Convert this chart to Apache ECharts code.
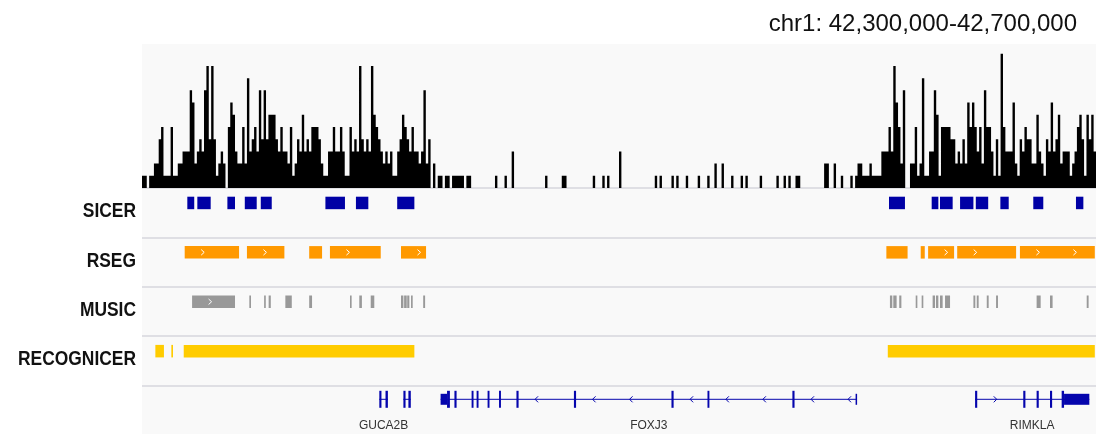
<!DOCTYPE html>
<html>
<head>
<meta charset="utf-8">
<script src="https://cdn.jsdelivr.net/npm/echarts@6/dist/echarts.min.js"></script>
<style>
  html, body { margin: 0; padding: 0; background: #ffffff; }
  #chart { width: 1096px; height: 434px; }
</style>
</head>
<body>
<div id="chart"></div>
<script>
// Locus shown in the browser view
const regionStart = 42300000;
const regionEnd = 42700000;
const locusLabel = 'chr1: 42,300,000-42,700,000';

// Read coverage, one value per 1 kb bin starting at regionStart
const binSize = 1000;
const coverage = [
  1,1,0,1,1,2,2,4,5,1, 1,1,5,1,1,2,2,3,3,3,
  8,7,2,3,4,3,8,10,4,10, 4,1,2,3,2,0,5,7,6,3,
  2,2,5,2,9,3,4,5,3,8, 4,8,4,6,6,6,4,3,5,3,
  3,2,5,1,2,4,3,6,3,4, 3,5,5,5,4,2,1,1,3,3,
  5,3,3,5,3,1,1,5,3,4, 3,10,4,3,4,3,10,6,5,4,
  3,2,3,2,3,1,1,3,4,6, 5,4,3,5,3,3,2,3,8,2,
  4,0,2,0,1,1,0,1,1,0, 1,1,1,1,1,0,1,1,0,0,
  0,0,0,0,0,0,0,0,1,0, 0,0,1,0,0,3,0,0,0,0,
  0,0,0,0,0,0,0,0,0,1, 0,0,0,0,0,0,1,1,0,0,
  0,0,0,0,0,0,0,0,0,1, 0,0,0,1,0,1,0,0,0,0,
  3,0,0,0,0,0,0,0,0,0, 0,0,0,0,0,1,0,1,0,0,
  0,0,1,0,1,0,0,0,1,0, 0,0,0,1,0,0,0,1,0,0,
  2,0,0,2,0,0,0,1,0,0, 0,1,0,1,0,0,0,0,0,1,
  0,0,0,0,0,0,1,0,0,1, 0,1,0,0,1,1,0,0,0,0,
  0,0,0,0,0,0,2,2,0,0, 2,0,0,1,0,0,0,1,0,1,
  2,2,1,1,1,2,1,1,1,1, 3,3,3,5,3,10,7,5,2,8,
  0,0,2,2,5,1,2,9,1,1, 3,3,8,6,1,5,5,5,5,4,
  4,2,3,2,4,2,7,5,7,5, 3,5,2,8,5,5,3,1,4,1,
  11,5,3,3,3,7,2,1,4,3, 5,4,4,2,2,6,3,2,1,4,
  3,7,3,4,6,2,3,3,3,1, 2,3,5,6,4,1,6,4,6,3
];

// Peak-caller tracks: [start, end] in bp
const trackNames = ['SICER', 'RSEG', 'MUSIC', 'RECOGNICER'];

const sicerPeaks = [
  [42319000, 42321900], [42323200, 42328800], [42335800, 42339000], [42343100, 42348100],
  [42349800, 42354400], [42376900, 42385100], [42389700, 42394900], [42407000, 42414200],
  [42613200, 42619900], [42631100, 42633900], [42634600, 42639900], [42643000, 42648600],
  [42649600, 42654800], [42659900, 42663400], [42673700, 42677900], [42691600, 42694700]
];

const rsegDomains = [
  [42317900, 42340700], [42344000, 42359700], [42370100, 42375500], [42378800, 42400100],
  [42408600, 42419100], [42612100, 42621000], [42626500, 42628200], [42629600, 42640500],
  [42641800, 42666500], [42668100, 42699500]
];

const musicPeaks = [
  [42321000, 42339000], [42345000, 42345700], [42351200, 42351900], [42353100, 42354000],
  [42360100, 42362800], [42370100, 42371300], [42387200, 42387900], [42391100, 42392200],
  [42395900, 42397400], [42408600, 42409600], [42409900, 42411000], [42411200, 42412100],
  [42412800, 42413500], [42417900, 42418700],
  [42613600, 42614600], [42615000, 42616400], [42617500, 42618400], [42624400, 42625100],
  [42626900, 42627600], [42631500, 42632500], [42632900, 42633900], [42634600, 42635700],
  [42636700, 42638800], [42648600, 42649400], [42650000, 42650800], [42654200, 42655000],
  [42658100, 42658900], [42675100, 42676800], [42680700, 42681800], [42696100, 42696900]
];

const recognicerDomains = [
  [42305600, 42309200], [42312300, 42313000], [42317500, 42414200], [42612700, 42699500]
];

// Gene models: coding exons, UTR blocks, strand and name
const geneLabels = ['GUCA2B', '', 'FOXJ3', 'RIMKLA'];
const geneStrands = ['-', '-', '-', '+'];
const geneExons = [
  [[42399500, 42400400], [42402100, 42403100]],
  [[42409600, 42410500], [42411700, 42412700]],
  [[42427900, 42429100], [42431000, 42431900], [42438200, 42439000], [42440300, 42441100],
   [42444900, 42445700], [42449700, 42450500], [42457000, 42457900], [42481100, 42482000],
   [42522000, 42522900], [42537100, 42537900], [42572700, 42573600]],
  [[42649300, 42650200], [42669500, 42670400], [42675100, 42676000], [42680700, 42681600],
   [42685600, 42686600]]
];
const geneUtrs = [
  [],
  [],
  [[42425200, 42427900], [42599200, 42599800]],
  [[42686600, 42697200]]
];

// Colours
const COLORS = {
  panel: '#f9f9f9',
  divider: '#d6d6dc',
  coverage: '#000000',
  sicer: '#0000a5',
  rseg: '#ff9900',
  music: '#999999',
  recognicer: '#ffcc00',
  gene: '#0505ad',
  geneText: '#333333',
  trackText: '#111111'
};

const GENE_ROW = trackNames.length;

// Coverage as a stepped area: each point holds its value until the next bin
const coveragePoints = coverage.map((v, i) => [regionStart + i * binSize, v]);
coveragePoints.push([regionEnd, coverage[coverage.length - 1]]);

function rowData(list, row) {
  return list.map(([s, e]) => [s, e, row]);
}

// Feature blocks with optional strand chevrons drawn inside them
function featureRenderer(color, withArrows) {
  return function (params, api) {
    const row = api.value(2);
    const p0 = api.coord([api.value(0), row]);
    const p1 = api.coord([api.value(1), row]);
    const top = p0[1] - 16;
    const h = 12.5;
    const x = p0[0];
    const w = Math.max(p1[0] - p0[0], 1.6);
    const children = [{
      type: 'rect',
      shape: { x: x, y: top, width: w, height: h },
      style: { fill: color }
    }];
    if (withArrows) {
      for (let cx = x + 18; cx < x + w - 4; cx += 37) {
        children.push({
          type: 'polyline',
          shape: { points: [[cx - 1.5, top + 3.5], [cx + 1.5, top + 6.25], [cx - 1.5, top + 9]] },
          style: { stroke: '#ffffff', lineWidth: 1, fill: null }
        });
      }
    }
    return { type: 'group', children: children };
  };
}

// Track names, right-aligned against the data panel in a condensed bold face
function trackNameRenderer(params, api) {
  const row = api.value(1);
  const p = api.coord([regionStart, row]);
  return {
    type: 'text',
    x: p[0] - 6,
    y: p[1] - 1,
    scaleX: 0.87,
    style: {
      text: trackNames[row],
      x: 0,
      y: 0,
      align: 'right',
      verticalAlign: 'middle',
      fill: COLORS.trackText,
      fontSize: 20,
      fontWeight: 'bold',
      fontFamily: '"Liberation Sans", Arial, sans-serif'
    }
  };
}

function geneRenderer(params, api) {
  const gi = api.value(3);
  const start = api.coord([api.value(0), GENE_ROW]);
  const end = api.coord([api.value(1), GENE_ROW]);
  const mid = start[1] - 11;
  const children = [];

  children.push({
    type: 'line',
    shape: { x1: start[0], y1: mid, x2: end[0], y2: mid },
    style: { stroke: COLORS.gene, lineWidth: 1 }
  });

  // Chevrons along each intron show the strand
  const blocks = geneExons[gi].concat(geneUtrs[gi]).slice().sort((a, b) => a[0] - b[0]);
  const dir = geneStrands[gi] === '+' ? 1 : -1;
  for (let k = 0; k + 1 < blocks.length; k++) {
    const a = api.coord([blocks[k][1], GENE_ROW])[0];
    const b = api.coord([blocks[k + 1][0], GENE_ROW])[0];
    for (let cx = a + 18; cx < b - 5; cx += 37) {
      children.push({
        type: 'polyline',
        shape: { points: [[cx - 1.5 * dir, mid - 3], [cx + 1.5 * dir, mid], [cx - 1.5 * dir, mid + 3]] },
        style: { stroke: COLORS.gene, lineWidth: 1, fill: null }
      });
    }
  }

  geneUtrs[gi].forEach(([s, e]) => {
    const x0 = api.coord([s, GENE_ROW])[0];
    const x1 = api.coord([e, GENE_ROW])[0];
    children.push({
      type: 'rect',
      shape: { x: x0, y: mid - 5.5, width: Math.max(x1 - x0, 1.5), height: 11 },
      style: { fill: COLORS.gene }
    });
  });

  geneExons[gi].forEach(([s, e]) => {
    const x0 = api.coord([s, GENE_ROW])[0];
    const x1 = api.coord([e, GENE_ROW])[0];
    children.push({
      type: 'rect',
      shape: { x: x0, y: mid - 8.5, width: Math.max(x1 - x0, 1.8), height: 17 },
      style: { fill: COLORS.gene }
    });
  });

  if (geneLabels[gi]) {
    children.push({
      type: 'text',
      style: {
        text: geneLabels[gi],
        x: (start[0] + end[0]) / 2,
        y: start[1] + 15,
        align: 'center',
        verticalAlign: 'middle',
        fill: COLORS.geneText,
        fontSize: 12,
        fontFamily: '"Liberation Sans", Arial, sans-serif'
      }
    });
  }
  return { type: 'group', children: children };
}

const geneData = geneLabels.map((name, i) => {
  const all = geneExons[i].concat(geneUtrs[i]);
  const s = Math.min.apply(null, all.map(b => b[0]));
  const e = Math.max.apply(null, all.map(b => b[1]));
  return [s, e, GENE_ROW, i];
});

const chart = echarts.init(document.getElementById('chart'), null, { renderer: 'canvas' });

chart.setOption({
  animation: false,
  backgroundColor: '#ffffff',
  title: {
    text: locusLabel,
    right: 14,
    top: 7,
    textStyle: {
      fontSize: 24,
      fontWeight: 'normal',
      color: '#111111',
      fontFamily: '"Liberation Sans", Arial, sans-serif'
    }
  },
  grid: [
    { left: 142, right: 0, top: 44, height: 144, show: true, backgroundColor: COLORS.panel,
      borderWidth: 0, outerBoundsMode: 'none', containLabel: false },
    { left: 142, right: 0, top: 188, bottom: -1, show: true, backgroundColor: COLORS.panel,
      borderWidth: 0, outerBoundsMode: 'none', containLabel: false }
  ],
  xAxis: [
    { type: 'value', gridIndex: 0, min: regionStart, max: regionEnd, show: false },
    { type: 'value', gridIndex: 1, min: regionStart, max: regionEnd, show: false }
  ],
  yAxis: [
    { type: 'value', gridIndex: 0, min: 0, max: 11.8, show: false },
    {
      type: 'category',
      gridIndex: 1,
      inverse: true,
      data: trackNames.concat(['']),
      axisLine: { show: false },
      axisTick: { show: false },
      axisLabel: { show: false },
      splitLine: { show: true, lineStyle: { color: COLORS.divider, width: 1.5 } }
    }
  ],
  series: [
    {
      type: 'line',
      xAxisIndex: 0,
      yAxisIndex: 0,
      step: 'end',
      data: coveragePoints,
      symbol: 'none',
      lineStyle: { width: 0 },
      areaStyle: { color: COLORS.coverage, opacity: 1 },
      silent: true
    },
    {
      type: 'custom', xAxisIndex: 1, yAxisIndex: 1,
      renderItem: featureRenderer(COLORS.sicer, false),
      encode: { x: [0, 1], y: 2 },
      data: rowData(sicerPeaks, 0), silent: true
    },
    {
      type: 'custom', xAxisIndex: 1, yAxisIndex: 1,
      renderItem: featureRenderer(COLORS.rseg, true),
      encode: { x: [0, 1], y: 2 },
      data: rowData(rsegDomains, 1), silent: true
    },
    {
      type: 'custom', xAxisIndex: 1, yAxisIndex: 1,
      renderItem: featureRenderer(COLORS.music, true),
      encode: { x: [0, 1], y: 2 },
      data: rowData(musicPeaks, 2), silent: true
    },
    {
      type: 'custom', xAxisIndex: 1, yAxisIndex: 1,
      renderItem: featureRenderer(COLORS.recognicer, false),
      encode: { x: [0, 1], y: 2 },
      data: rowData(recognicerDomains, 3), silent: true
    },
    {
      type: 'custom', xAxisIndex: 1, yAxisIndex: 1,
      renderItem: geneRenderer,
      encode: { x: [0, 1], y: 2 },
      data: geneData, silent: true
    },
    {
      type: 'custom', xAxisIndex: 1, yAxisIndex: 1,
      renderItem: trackNameRenderer,
      encode: { x: 0, y: 1 },
      clip: false,
      data: trackNames.map((name, i) => [regionStart, i]), silent: true
    }
  ]
});
</script>
</body>
</html>
